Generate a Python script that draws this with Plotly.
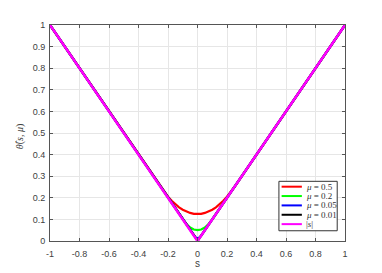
import plotly.graph_objects as go

# ---- data ----
s_mu05 = [-1, -0.25, -0.225, -0.2, -0.175, -0.15, -0.125, -0.1, -0.075, -0.05, -0.025, 0,
          0.025, 0.05, 0.075, 0.1, 0.125, 0.15, 0.175, 0.2, 0.225, 0.25, 1]
th_mu05 = [1, 0.25, 0.226, 0.205, 0.186, 0.17, 0.156, 0.145, 0.136, 0.13, 0.126, 0.125,
           0.126, 0.13, 0.136, 0.145, 0.156, 0.17, 0.186, 0.205, 0.226, 0.25, 1]

s_mu02 = [-1, -0.1, -0.075, -0.05, -0.025, 0, 0.025, 0.05, 0.075, 0.1, 1]
th_mu02 = [1, 0.1, 0.078, 0.0625, 0.053, 0.05, 0.053, 0.0625, 0.078, 0.1, 1]

s_mu005 = [-1, -0.025, -0.0125, 0, 0.0125, 0.025, 1]
th_mu005 = [1, 0.025, 0.0156, 0.0125, 0.0156, 0.025, 1]

s_mu001 = [-1, -0.005, 0, 0.005, 1]
th_mu001 = [1, 0.005, 0.0025, 0.005, 1]

s_abs = [-1, 0, 1]
th_abs = [1, 0, 1]

series_names = ["<i>μ</i> = 0.5", "<i>μ</i> = 0.2", "<i>μ</i> = 0.05", "<i>μ</i> = 0.01", "|<i>s</i>|"]
series_colors = ["#ff0000", "#00ff00", "#0000ff", "#000000", "#ff00ff"]
series_widths = [2.2, 2.2, 2.2, 2.2, 2.6]
series_x = [s_mu05, s_mu02, s_mu005, s_mu001, s_abs]
series_y = [th_mu05, th_mu02, th_mu005, th_mu001, th_abs]

x_ticks = [-1, -0.8, -0.6, -0.4, -0.2, 0, 0.2, 0.4, 0.6, 0.8, 1]
x_tick_text = ["-1", "-0.8", "-0.6", "-0.4", "-0.2", "0", "0.2", "0.4", "0.6", "0.8", "1"]
y_ticks = [0, 0.1, 0.2, 0.3, 0.4, 0.5, 0.6, 0.7, 0.8, 0.9, 1]
y_tick_text = ["0", "0.1", "0.2", "0.3", "0.4", "0.5", "0.6", "0.7", "0.8", "0.9", "1"]

# ---- layout geometry (page pixels; the page body has an 8px margin) ----
PAGE_W, PAGE_H = 382, 273
OFF = 8
W, H = PAGE_W - OFF, PAGE_H - OFF
plot_left, plot_right, plot_top, plot_bottom = 50, 345.5, 20, 241.5
L, R, T, B = plot_left - OFF, PAGE_W - plot_right, plot_top - OFF, PAGE_H - plot_bottom
PW, PH = plot_right - plot_left, plot_bottom - plot_top


def px_x(p):
    return (p - plot_left) / PW


def px_y(p):
    return (plot_bottom - p) / PH


fig = go.Figure()
for xs, ys, nm, col, lw in zip(series_x, series_y, series_names, series_colors, series_widths):
    fig.add_trace(go.Scatter(x=xs, y=ys, mode="lines", name=nm,
                             line=dict(color=col, width=lw), showlegend=False))

axis_common = dict(showline=True, linecolor="#555555", linewidth=1, mirror="ticks",
                   ticks="inside", ticklen=3, tickcolor="#555555",
                   showgrid=True, gridcolor="#e6e6e6", gridwidth=1, zeroline=False,
                   tickfont=dict(family="Liberation Sans, Arial", size=9, color="#404040"))

fig.update_layout(
    width=W, height=H,
    margin=dict(l=L, r=R, t=T, b=B),
    paper_bgcolor="white", plot_bgcolor="white",
    xaxis=dict(range=[-1, 1], tickvals=x_ticks, ticktext=x_tick_text,
               ticklabelstandoff=4, **axis_common),
    yaxis=dict(range=[0, 1], tickvals=y_ticks, ticktext=y_tick_text,
               ticklabelstandoff=2, **axis_common),
)

annotations = [
    dict(text="s", x=0.5, y=px_y(265), xref="paper", yref="paper", showarrow=False,
         xanchor="center", yanchor="middle",
         font=dict(family="Liberation Sans, Arial", size=10, color="#404040")),
    dict(text="<i>θ̂</i>(<i>s</i>, <i>μ</i>)", x=px_x(20), y=px_y(134), xref="paper", yref="paper",
         showarrow=False, textangle=-90, xanchor="center", yanchor="middle",
         font=dict(family="Liberation Serif, serif", size=10, color="#404040")),
]

shapes = []
# legend box
lg_left, lg_right, lg_top, lg_bottom = 279.3, 337.7, 180.3, 231
shapes.append(dict(type="rect", xref="paper", yref="paper",
                   x0=px_x(lg_left), x1=px_x(lg_right), y0=px_y(lg_bottom), y1=px_y(lg_top),
                   line=dict(color="#333333", width=1), fillcolor="white", layer="above"))
row_y0, row_dy = 185.8, 9.6
for i, (nm, col) in enumerate(zip(series_names, series_colors)):
    yy = px_y(row_y0 + i * row_dy)
    shapes.append(dict(type="line", xref="paper", yref="paper",
                       x0=px_x(282), x1=px_x(302.3), y0=yy, y1=yy,
                       line=dict(color=col, width=2), layer="above"))
    annotations.append(dict(text=nm, x=px_x(304), y=yy, xref="paper", yref="paper",
                            xanchor="left", yanchor="middle", showarrow=False,
                            font=dict(family="Liberation Serif, serif", size=9, color="#333333")))

fig.update_layout(annotations=annotations, shapes=shapes)
fig.write_html("out.html")
